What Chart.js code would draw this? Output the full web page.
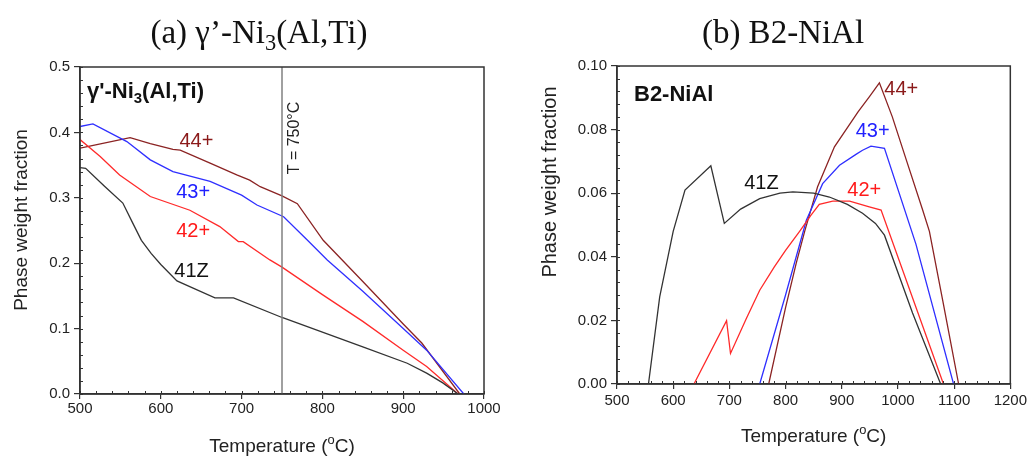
<!DOCTYPE html>
<html>
<head>
<meta charset="utf-8">
<script src="https://cdn.jsdelivr.net/npm/chart.js@4.4.1/dist/chart.umd.min.js"></script>
<style>
  html, body { margin: 0; padding: 0; background: #fff; }
  #wrapA { position: absolute; left: 0; top: 0; width: 515px; height: 456px; }
  #wrapB { position: absolute; left: 530px; top: 0; width: 500px; height: 456px; }
</style>
</head>
<body>
<div id="wrapA"><canvas id="chartA"></canvas></div>
<div id="wrapB"><canvas id="chartB"></canvas></div>
<script>
"use strict";

// (a) gamma' - temperature (C) and phase weight fraction
var tA_41Z = [500, 507, 530, 553, 565, 576, 588, 600, 620, 640, 667, 690, 750, 850, 905, 929, 949, 968];
var fA_41Z = [0.346, 0.345, 0.318, 0.292, 0.262, 0.235, 0.215, 0.198, 0.173, 0.162, 0.147, 0.147, 0.117, 0.072, 0.047, 0.032, 0.017, 0.0];
var tA_42 = [500, 525, 549, 587, 636, 673, 696, 702, 735, 750, 800, 850, 900, 929, 968];
var fA_42 = [0.389, 0.363, 0.335, 0.302, 0.281, 0.256, 0.233, 0.233, 0.205, 0.194, 0.152, 0.111, 0.067, 0.042, 0.0];
var tA_43 = [500, 516, 558, 587, 615, 661, 700, 719, 752, 780, 806, 850, 900, 929, 975];
var fA_43 = [0.409, 0.413, 0.386, 0.358, 0.340, 0.325, 0.304, 0.289, 0.271, 0.237, 0.205, 0.157, 0.100, 0.067, 0.0];
var tA_44 = [500, 512, 562, 587, 615, 624, 661, 694, 710, 723, 750, 769, 801, 850, 900, 923, 970];
var fA_44 = [0.376, 0.379, 0.392, 0.383, 0.374, 0.373, 0.353, 0.335, 0.327, 0.317, 0.303, 0.291, 0.235, 0.172, 0.107, 0.078, 0.0];

// (b) B2-NiAl
var tB_41Z = [556, 576, 600, 621, 667, 691, 720, 754, 790, 813, 850, 878, 910, 937, 960, 976, 1026, 1076];
var fB_41Z = [0, 0.0274, 0.048, 0.061, 0.0686, 0.0505, 0.0550, 0.0583, 0.0600, 0.0604, 0.0600, 0.0588, 0.0565, 0.0537, 0.0505, 0.0468, 0.0223, 0];
var tB_42 = [637, 695, 702, 730, 754, 780, 800, 825, 845, 860, 884, 914, 949, 970, 1081];
var fB_42 = [0, 0.0199, 0.0096, 0.0205, 0.0295, 0.0368, 0.042, 0.048, 0.053, 0.0565, 0.0575, 0.0575, 0.0557, 0.0547, 0];
var tB_43 = [754, 800, 837, 866, 896, 926, 937, 952, 976, 1032, 1099];
var fB_43 = [0, 0.028, 0.0515, 0.063, 0.0688, 0.0723, 0.0735, 0.0748, 0.0741, 0.044, 0];
var tB_44 = [770, 800, 819, 834, 857, 887, 917, 929, 949, 967, 990, 1015, 1044, 1056, 1080, 1108];
var fB_44 = [0, 0.024, 0.038, 0.048, 0.062, 0.0746, 0.0824, 0.0856, 0.0903, 0.0947, 0.084, 0.0704, 0.0547, 0.048, 0.026, 0];

var seriesNames = ['41Z', '42+', '43+', '44+'];
var seriesColors = ['#333333', '#ff2a2a', '#2f2fff', '#8b2323'];

var SANS = '"Liberation Sans", Arial, sans-serif';
var SERIF = '"Liberation Serif", "Times New Roman", serif';

function pts(t, f) {
    return t.map(function (v, i) { return { x: v, y: f[i] }; });
}

function makeSets(list) {
    return list.map(function (p, i) {
        return {
            label: seriesNames[i],
            data: pts(p[0], p[1]),
            borderColor: seriesColors[i],
            borderWidth: 1.3,
            pointRadius: 0,
            tension: 0,
            fill: false
        };
    });
}

// parts: [text, mode] with mode 0 normal, 1 subscript, 2 superscript
function drawRich(ctx, parts, x, y, size, weight, family, align) {
    var widths = parts.map(function (p) {
        var s = p[1] ? size * 0.68 : size;
        ctx.font = weight + ' ' + s + 'px ' + family;
        return ctx.measureText(p[0]).width;
    });
    var total = widths.reduce(function (a, b) { return a + b; }, 0);
    var cx = align === 'center' ? x - total / 2 : x;
    ctx.textAlign = 'left';
    ctx.textBaseline = 'alphabetic';
    parts.forEach(function (p, i) {
        var s = p[1] ? size * 0.68 : size;
        var dy = p[1] === 1 ? size * 0.22 : (p[1] === 2 ? -size * 0.42 : 0);
        ctx.font = weight + ' ' + s + 'px ' + family;
        ctx.fillText(p[0], cx, y + dy);
        cx += widths[i];
    });
}

var decor = {
    id: 'decor',
    afterDatasetsDraw: function (chart, args, o) {
        var ctx = chart.ctx, a = chart.chartArea, x = chart.scales.x, y = chart.scales.y;
        ctx.save();

        // vertical marker line
        if (o.vline) {
            var vx = x.getPixelForValue(o.vline);
            ctx.strokeStyle = '#808080';
            ctx.lineWidth = 1.5;
            ctx.beginPath();
            ctx.moveTo(vx, a.top);
            ctx.lineTo(vx, a.bottom);
            ctx.stroke();
            ctx.save();
            ctx.translate(vx + 17, a.top + 71);
            ctx.rotate(-Math.PI / 2);
            ctx.fillStyle = '#222';
            drawRich(ctx, [['T = 750\u00B0C', 0]], 0, 0, 16, 'normal', SANS, 'center');
            ctx.restore();
        }

        // minor ticks (inward)
        ctx.strokeStyle = '#333';
        ctx.lineWidth = 1;
        ctx.beginPath();
        var v, p;
        for (v = x.min; v <= x.max + 1e-9; v += o.xMinor) {
            p = Math.round(x.getPixelForValue(v)) + 0.5;
            ctx.moveTo(p, a.bottom);
            ctx.lineTo(p, a.bottom - 3);
        }
        for (v = y.min; v <= y.max + 1e-9; v += o.yMinor) {
            p = Math.round(y.getPixelForValue(v)) + 0.5;
            ctx.moveTo(a.left, p);
            ctx.lineTo(a.left + 3, p);
        }
        ctx.stroke();

        // frame
        ctx.lineWidth = 1.5;
        ctx.strokeRect(a.left, a.top, a.right - a.left, a.bottom - a.top);

        // series labels
        o.labels.forEach(function (l) {
            ctx.fillStyle = l.color;
            ctx.font = '20px ' + SANS;
            ctx.textAlign = 'center';
            ctx.textBaseline = 'middle';
            ctx.fillText(l.text, x.getPixelForValue(l.x), y.getPixelForValue(l.y));
        });

        // phase label inside plot
        ctx.fillStyle = '#111';
        drawRich(ctx, o.phase, a.left + o.phaseDx, a.top + o.phaseDy, 22, 'bold', SANS, 'left');

        // panel title
        ctx.fillStyle = '#111';
        drawRich(ctx, o.title, o.titleX, 43, 33, 'normal', SERIF, 'center');

        // axis titles
        ctx.fillStyle = '#222';
        drawRich(ctx, [['Temperature (', 0], ['o', 2], ['C)', 0]], (a.left + a.right) / 2, o.xTitleY, 19, 'normal', SANS, 'center');
        ctx.save();
        ctx.translate(o.yTitleX, o.yTitleY);
        ctx.rotate(-Math.PI / 2);
        drawRich(ctx, [['Phase weight fraction', 0]], 0, 0, o.yTitleSize, 'normal', SANS, 'center');
        ctx.restore();

        ctx.restore();
    }
};

function axisX(h) {
    return {
        type: 'linear',
        min: 500,
        max: h.max,
        afterFit: function (s) { s.height = h.height; },
        grid: { display: true, drawOnChartArea: false, drawTicks: true, tickLength: 5, color: '#333', lineWidth: 1.2 },
        border: { display: true, color: '#333', width: 1.5 },
        ticks: {
            stepSize: 100,
            padding: h.pad,
            color: '#222',
            font: { family: SANS, size: 15 },
            maxRotation: 0,
            callback: function (v) { return String(v); }
        }
    };
}

function axisY(h) {
    return {
        type: 'linear',
        min: 0,
        max: h.max,
        afterFit: function (s) { s.width = h.width; },
        grid: { display: true, drawOnChartArea: false, drawTicks: true, tickLength: 6, color: '#333', lineWidth: 1.2 },
        border: { display: true, color: '#333', width: 1.5 },
        ticks: {
            stepSize: h.step,
            padding: 4,
            color: '#222',
            font: { family: SANS, size: 15 },
            callback: function (v) { return Number(v).toFixed(h.dec); }
        }
    };
}

var chartA = new Chart(document.getElementById('chartA').getContext('2d'), {
    type: 'line',
    data: {
        datasets: makeSets([[tA_41Z, fA_41Z], [tA_42, fA_42], [tA_43, fA_43], [tA_44, fA_44]])
    },
    options: {
        responsive: true,
        maintainAspectRatio: false,
        animation: false,
        layout: { padding: { top: 67, right: 31, bottom: 0, left: 0 } },
        scales: {
            x: axisX({ max: 1000, height: 62, pad: 1 }),
            y: axisY({ max: 0.5, width: 80, step: 0.1, dec: 1 })
        },
        plugins: {
            legend: { display: false },
            tooltip: { enabled: false },
            decor: {
                vline: 750,
                xMinor: 20,
                yMinor: 0.02,
                labels: [
                    { text: '44+', x: 644, y: 0.386, color: '#8b1a1a' },
                    { text: '43+', x: 640, y: 0.308, color: '#2020ff' },
                    { text: '42+', x: 640, y: 0.248, color: '#ff1a1a' },
                    { text: '41Z', x: 638, y: 0.187, color: '#111' }
                ],
                phase: [['\u03B3\'-Ni', 0], ['3', 1], ['(Al,Ti)', 0]],
                phaseDx: 7,
                phaseDy: 31,
                title: [['(a) \u03B3\u2019-Ni', 0], ['3', 1], ['(Al,Ti)', 0]],
                titleX: 259,
                xTitleY: 452,
                yTitleX: 27,
                yTitleY: 220,
                yTitleSize: 19
            }
        }
    },
    plugins: [decor]
});

var chartB = new Chart(document.getElementById('chartB').getContext('2d'), {
    type: 'line',
    data: {
        datasets: makeSets([[tB_41Z, fB_41Z], [tB_42, fB_42], [tB_43, fB_43], [tB_44, fB_44]])
    },
    options: {
        responsive: true,
        maintainAspectRatio: false,
        animation: false,
        layout: { padding: { top: 66, right: 19, bottom: 0, left: 0 } },
        scales: {
            x: axisX({ max: 1200, height: 72, pad: 3 }),
            y: axisY({ max: 0.1, width: 87, step: 0.02, dec: 2 })
        },
        plugins: {
            legend: { display: false },
            tooltip: { enabled: false },
            decor: {
                vline: null,
                xMinor: 20,
                yMinor: 0.004,
                labels: [
                    { text: '44+', x: 1006, y: 0.0926, color: '#8b1a1a' },
                    { text: '43+', x: 955, y: 0.0795, color: '#2020ff' },
                    { text: '42+', x: 940, y: 0.061, color: '#ff1a1a' },
                    { text: '41Z', x: 757, y: 0.0631, color: '#111' }
                ],
                phase: [['B2-NiAl', 0]],
                phaseDx: 17,
                phaseDy: 35,
                title: [['(b) B2-NiAl', 0]],
                titleX: 253,
                xTitleY: 442,
                yTitleX: 26,
                yTitleY: 182,
                yTitleSize: 20
            }
        }
    },
    plugins: [decor]
});
</script>
</body>
</html>
